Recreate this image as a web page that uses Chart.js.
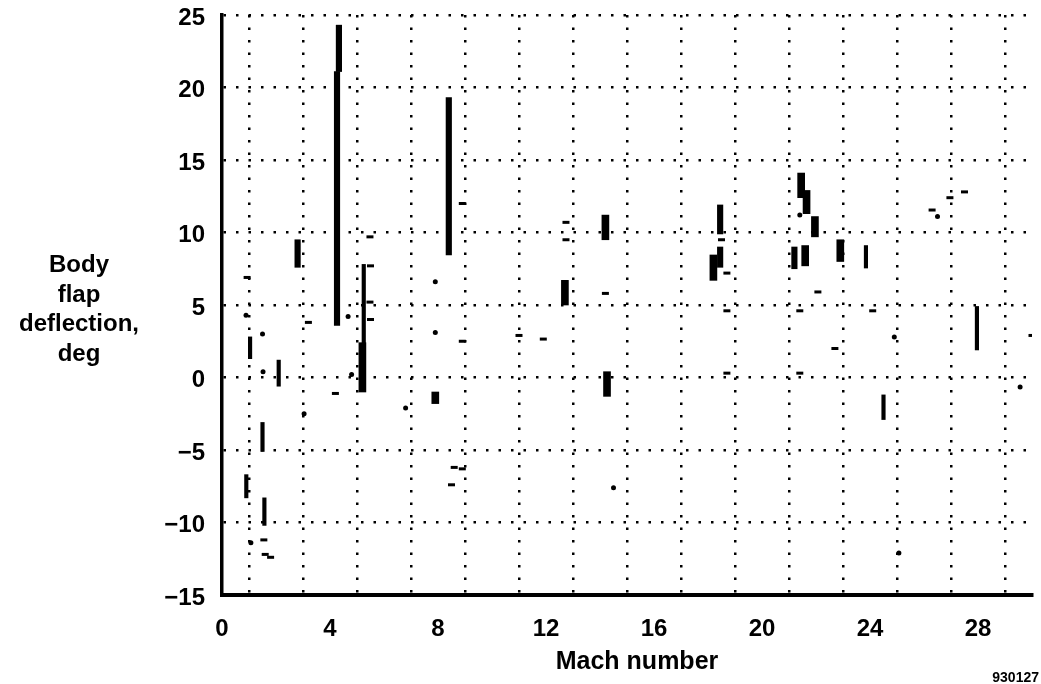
<!DOCTYPE html>
<html>
<head>
<meta charset="utf-8">
<title>Body flap deflection vs Mach number</title>
<script src="https://cdn.jsdelivr.net/npm/chart.js@4/dist/chart.umd.min.js"></script>
<style>
html, body { margin: 0; padding: 0; background: #fff; }
#wrap { width: 1041px; height: 684px; }
</style>
</head>
<body>
<div id="wrap"><canvas id="grafico" width="1041" height="684"></canvas></div>
<script>

/* flight data: [mach, low deflection, high deflection] in deg */

const barrasAnchas = [
[5.2, -1.0, 2.4],
[7.9, -1.8, -1.0],
[12.7, 5.0, 6.7],
[14.2, 9.5, 11.2],
[14.26, -1.3, 0.4],
[18.2, 6.7, 8.45],
[21.45, 12.4, 14.1],
[21.65, 11.3, 12.9],
[21.6, 7.7, 9.1],
[21.96, 9.7, 11.1],
[22.9, 8.0, 9.5]
]

const barrasMedias = [
[4.26, 3.6, 21.1],
[4.33, 21.1, 24.3],
[2.8, 7.6, 9.5],
[8.4, 8.45, 19.3],
[18.45, 9.9, 11.9],
[18.45, 7.6, 9.0],
[21.2, 7.5, 9.0]
]

const barrasFinas = [
[5.25, 2.4, 7.8],
[1.04, 1.3, 2.8],
[2.1, -0.6, 1.2],
[1.5, -5.1, -3.1],
[0.9, -8.3, -6.7],
[1.57, -10.2, -8.3],
[23.85, 7.55, 9.1],
[27.96, 1.9, 4.9],
[24.5, -2.9, -1.2]
]

// single readings, short dashes: [mach, deflection]
const guiones = [
[0.93, 6.9], [5.48, 9.7], [5.5, 7.7], [5.48, 5.2], [5.5, 4.0],
[3.2, 3.8], [4.2, -1.1], [1.6, -12.2], [1.8, -12.4], [1.55, -11.2],
[8.9, 12.0], [12.74, 10.7], [12.74, 9.5], [14.2, 5.8],
[8.9, 2.5], [11.0, 2.9], [11.9, 2.65], [8.6, -6.2], [8.9, -6.3], [8.5, -7.4],
[18.5, 9.5], [18.7, 7.2], [22.07, 5.9], [18.7, 4.6], [21.4, 4.6], [22.7, 2.0],
[18.7, 0.3], [21.4, 0.3], [27.5, 12.8], [26.96, 12.4], [26.3, 11.55],
[24.1, 4.6], [30.0, 2.9]
]

// single readings, round dots
const puntos = [
[0.89, 4.3], [4.67, 4.2], [1.5, 3.0], [1.52, 0.4], [4.8, 0.2], [3.04, -2.5],
[6.8, -2.1], [7.9, 6.6], [7.9, 3.1], [14.5, -7.6], [21.4, 11.2], [24.9, 2.8],
[25.07, -12.1], [29.56, -0.65], [26.5, 11.1], [1.07, -11.4]
]

const ticksY = [-15, -10, -5, 0, 5, 10, 15, 20, 25]
const ticksXetiqueta = [0, 4, 8, 12, 16, 20, 24, 28]

const tituloY = ["Body", "flap", "deflection,", "deg"]
const tituloX = "Mach number"
const nota = "930127"

const fuente = "'Liberation Sans', Arial, Helvetica, sans-serif"


function aBarras(lista){
return lista.map(b => ({ x: b[0], y: [b[1], b[2]] }))
}

function aPuntos(lista){
return lista.map(p => ({ x: p[0], y: p[1] }))
}

function barra(lista, grosor){
return {
type: "bar",
data: aBarras(lista),
backgroundColor: "#000",
borderWidth: 0,
barThickness: grosor,
grouped: false
}
}


/* =========================
TEXTOS FUERA DEL AREA
========================= */

const textos = {
id: "textos",
afterDraw(chart){
const ctx = chart.ctx
ctx.save()
ctx.fillStyle = "#000"
ctx.textAlign = "center"
ctx.textBaseline = "alphabetic"

ctx.font = "bold 24px " + fuente
tituloY.forEach(function(linea, i){
ctx.fillText(linea, 79, 272 + i * 29.5)
})

ctx.font = "bold 25px " + fuente
ctx.fillText(tituloX, 637, 669)

ctx.font = "bold 14px " + fuente
ctx.textAlign = "right"
ctx.fillText(nota, 1039, 682)
ctx.restore()
}
}


new Chart(document.getElementById("grafico"), {
type: "bar",
data: {
datasets: [
barra(barrasAnchas, 7),
barra(barrasMedias, 5.5),
barra(barrasFinas, 3.5),
{
type: "scatter",
data: aPuntos(guiones),
pointStyle: "line",
pointRadius: 3.5,
pointBorderWidth: 3,
borderColor: "#000",
backgroundColor: "#000"
},
{
type: "scatter",
data: aPuntos(puntos),
pointStyle: "circle",
pointRadius: 2.5,
pointBorderWidth: 0,
backgroundColor: "#000"
}
]
},
options: {
responsive: false,
animation: false,
layout: { padding: { top: 15, right: 9, left: 0, bottom: 0 } },
plugins: {
legend: { display: false },
tooltip: { enabled: false }
},
scales: {
x: {
type: "linear",
min: 0,
max: 30,
offset: false,
// fixed axis box, no extra room for edge labels
afterFit: s => {
s.height = 89
s.paddingLeft = 0
s.paddingRight = 0
},
ticks: {
stepSize: 2,
autoSkip: false,
maxRotation: 0,
padding: 20,
color: "#000",
font: { family: fuente, size: 24, weight: "bold" },
callback: v => ticksXetiqueta.includes(v) ? String(v) : ""
},
grid: { color: "#000", lineWidth: 2.5, drawTicks: false },
border: { display: true, color: "#000", width: 4, dash: [2.5, 10] }
},
y: {
min: -15,
max: 25,
afterFit: s => {
s.width = 222
s.paddingTop = 0
s.paddingBottom = 0
},
afterBuildTicks: s => { s.ticks = ticksY.map(v => ({ value: v })) },
ticks: {
padding: 17,
labelOffset: 3,
color: "#000",
font: { family: fuente, size: 24, weight: "bold" },
callback: v => v < 0 ? "\u2212" + Math.abs(v) : String(v)
},
grid: { color: "#000", lineWidth: 2.5, drawTicks: false },
border: { display: true, color: "#000", width: 3.5, dash: [2.5, 10] }
}
}
},
plugins: [textos]
})

</script>
</body>
</html>
